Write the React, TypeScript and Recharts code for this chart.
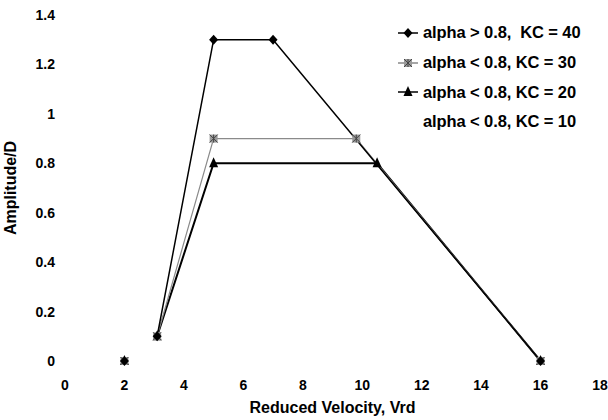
import { LineChart, Line, XAxis, YAxis } from 'recharts';

// Reduced velocity (x) and amplitude/D (y); null breaks the line after the first point
const kc40X = [2, 2, 3.1, 5, 7, 16];
const kc40Y = [0, null, 0.1, 1.3, 1.3, 0];
const kc30X = [2, 2, 3.1, 5, 9.8, 16];
const kc30Y = [0, null, 0.1, 0.9, 0.9, 0];
const kc20X = [2, 2, 3.1, 5, 10.5, 16];
const kc20Y = [0, null, 0.1, 0.8, 0.8, 0];
const kc10X = [2, 3.1, 16];
const kc10Y = [0, 0.1, 0];

const xTicks = [0, 2, 4, 6, 8, 10, 12, 14, 16, 18];
const yTicks = [0, 0.2, 0.4, 0.6, 0.8, 1, 1.2, 1.4];

const seriesNames = [
  'alpha > 0.8,  KC = 40',
  'alpha < 0.8, KC = 30',
  'alpha < 0.8, KC = 20',
  'alpha < 0.8, KC = 10',
];

const toRows = (xs: number[], ys: (number | null)[]) =>
  xs.map((x, i) => ({ vrd: x, amp: ys[i] }));

const FONT = '"Liberation Sans", Arial, sans-serif';

function Diamond({ cx, cy }: any) {
  if (cx == null || cy == null) return null;
  return (
    <path
      d={`M${cx},${cy - 5}L${cx + 4.5},${cy}L${cx},${cy + 5}L${cx - 4.5},${cy}Z`}
      fill="#000"
    />
  );
}

function Star({ cx, cy }: any) {
  if (cx == null || cy == null) return null;
  return (
    <g>
      <rect x={cx - 4} y={cy - 4} width={8} height={8} fill="#9a9a9a" />
      <path
        d={`M${cx - 4},${cy - 4}L${cx + 4},${cy + 4}M${cx + 4},${cy - 4}L${cx - 4},${cy + 4}M${cx},${cy - 4}L${cx},${cy + 4}`}
        stroke="#444"
        strokeWidth={1}
      />
    </g>
  );
}

function Triangle({ cx, cy }: any) {
  if (cx == null || cy == null) return null;
  return (
    <path
      d={`M${cx},${cy - 6}L${cx + 4.5},${cy + 4}L${cx - 4.5},${cy + 4}Z`}
      fill="#000"
    />
  );
}

function LegendBox() {
  const symbols = [
    { stroke: '#000', Mark: Diamond },
    { stroke: '#888', Mark: Star },
    { stroke: '#000', Mark: Triangle },
    { stroke: 'none', Mark: null },
  ];
  return (
    <div
      style={{
        position: 'absolute',
        left: 396,
        top: 18,
        fontFamily: FONT,
        fontWeight: 'bold',
        fontSize: 16.5,
        letterSpacing: -0.1,
        color: '#000',
      }}
    >
      {seriesNames.map((name, i) => {
        const S = symbols[i];
        return (
          <div key={name} style={{ display: 'flex', alignItems: 'center', height: 29.7, whiteSpace: 'pre' }}>
            <svg width={24} height={14} style={{ marginRight: 3 }}>
              {S.stroke !== 'none' && (
                <line x1={2} y1={7} x2={22} y2={7} stroke={S.stroke} strokeWidth={1.5} />
              )}
              {S.Mark && <S.Mark cx={12} cy={7} />}
            </svg>
            <span>{name}</span>
          </div>
        );
      })}
    </div>
  );
}

export default function App() {
  return (
    <div style={{ position: 'absolute', left: 0, top: 0, width: 608, height: 420, background: '#fff' }}>
      <LineChart
        width={608}
        height={420}
        margin={{ top: 15, right: 8, bottom: 0, left: 0 }}
      >
        <XAxis
          type="number"
          dataKey="vrd"
          domain={[0, 18]}
          ticks={xTicks}
          axisLine={false}
          tickLine={false}
          tickMargin={13}
          height={59}
          tick={{ fill: '#000', fontSize: 14, fontWeight: 'bold', fontFamily: FONT }}
          label={{
            value: 'Reduced Velocity, Vrd',
            position: 'insideBottom',
            offset: 7,
            fill: '#000',
            style: { fontSize: 16, fontWeight: 'bold', fontFamily: FONT },
          }}
        />
        <YAxis
          type="number"
          domain={[0, 1.4]}
          ticks={yTicks}
          axisLine={false}
          tickLine={false}
          tickMargin={4}
          width={65}
          tick={{ fill: '#000', fontSize: 14, fontWeight: 'bold', fontFamily: FONT }}
          label={{
            value: 'Amplitude/D',
            angle: -90,
            position: 'insideLeft',
            offset: 10,
            fill: '#000',
            style: { textAnchor: 'middle', fontSize: 16, fontWeight: 'bold', fontFamily: FONT },
          }}
        />
        <Line
          data={toRows(kc10X, kc10Y)}
          dataKey="amp"
          name={seriesNames[3]}
          stroke="none"
          dot={false}
          activeDot={false}
          isAnimationActive={false}
        />
        <Line
          data={toRows(kc20X, kc20Y)}
          dataKey="amp"
          name={seriesNames[2]}
          stroke="#000"
          strokeWidth={2}
          dot={<Triangle />}
          isAnimationActive={false}
        />
        <Line
          data={toRows(kc30X, kc30Y)}
          dataKey="amp"
          name={seriesNames[1]}
          stroke="#8a8a8a"
          strokeWidth={1.2}
          dot={<Star />}
          isAnimationActive={false}
        />
        <Line
          data={toRows(kc40X, kc40Y)}
          dataKey="amp"
          name={seriesNames[0]}
          stroke="#000"
          strokeWidth={1.5}
          dot={<Diamond />}
          isAnimationActive={false}
        />
      </LineChart>
      <LegendBox />
    </div>
  );
}
